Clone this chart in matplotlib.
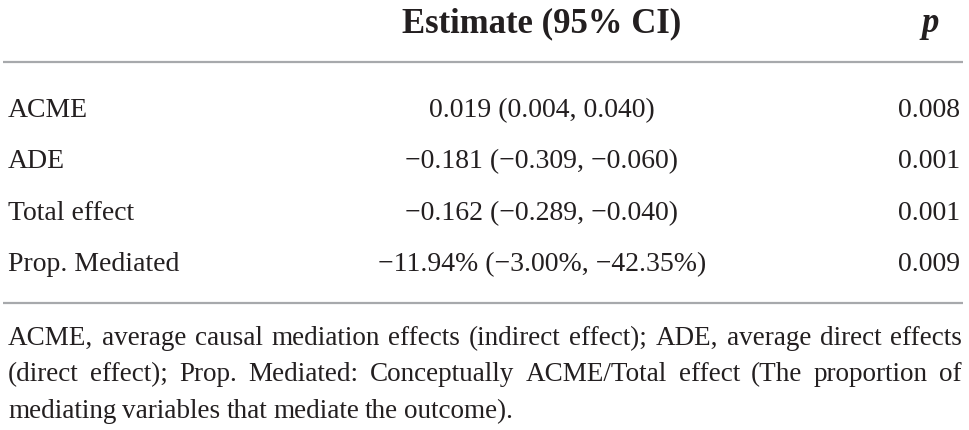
import matplotlib.pyplot as plt

# table data
effects = ["ACME", "ADE", "Total effect", "Prop. Mediated"]
estimates = ["0.019 (0.004, 0.040)",
             "\u22120.181 (\u22120.309, \u22120.060)",
             "\u22120.162 (\u22120.289, \u22120.040)",
             "\u221211.94% (\u22123.00%, \u221242.35%)"]
p_values = ["0.008", "0.001", "0.001", "0.009"]
col_headers = ["Estimate (95% CI)", "p"]
foot_lines = [
    "ACME, average causal mediation effects (indirect effect); ADE, average direct effects",
    "(direct effect); Prop. Mediated: Conceptually ACME/Total effect (The proportion of",
    "mediating variables that mediate the outcome).",
]

W, H = 970, 431
FONT = "Liberation Serif"
TXT = "#231f20"
RULE = "#a7a9ac"
fs = 20
fs_foot = 19.5

fig = plt.figure(figsize=(W / 100, H / 100), dpi=100)
ax = fig.add_axes([0, 0, 1, 1])
ax.set_xlim(0, W)
ax.set_ylim(H, 0)
ax.axis("off")

# header
ax.text(542, 32, col_headers[0], ha="center", va="baseline", fontsize=25,
        fontweight="bold", family=FONT, color=TXT)
ax.text(930, 32, col_headers[1], ha="center", va="baseline", fontsize=25,
        fontweight="bold", style="italic", family=FONT, color=TXT)

# rules
ax.plot([3, 963], [63, 63], color=RULE, lw=1.6, solid_capstyle="butt")
ax.plot([3, 963], [304, 304], color=RULE, lw=1.6, solid_capstyle="butt")

# body rows
row_y = [117, 168, 220, 271]
for y, lab, est, p in zip(row_y, effects, estimates, p_values):
    ax.text(8, y, lab, ha="left", va="baseline", fontsize=fs, family=FONT, color=TXT)
    ax.text(542, y, est, ha="center", va="baseline", fontsize=fs, family=FONT, color=TXT)
    ax.text(960, y, p, ha="right", va="baseline", fontsize=fs, family=FONT, color=TXT)

# justified footnote
fig.canvas.draw()
renderer = fig.canvas.get_renderer()
left, right = 8, 962
foot_y = [345, 381, 418]
for i, (line, y) in enumerate(zip(foot_lines, foot_y)):
    words = line.split(" ")
    arts = [ax.text(0, y, w, ha="left", va="baseline", fontsize=fs_foot,
                    family=FONT, color=TXT) for w in words]
    widths = [a.get_window_extent(renderer).width for a in arts]
    if i < len(foot_lines) - 1:
        gap = (right - left - sum(widths)) / (len(words) - 1)
    else:
        gap = renderer.points_to_pixels(fs_foot) * 0.22
    x = left
    for a, w in zip(arts, widths):
        a.set_x(x)
        x += w + gap

fig.savefig("out.png", dpi=100)
